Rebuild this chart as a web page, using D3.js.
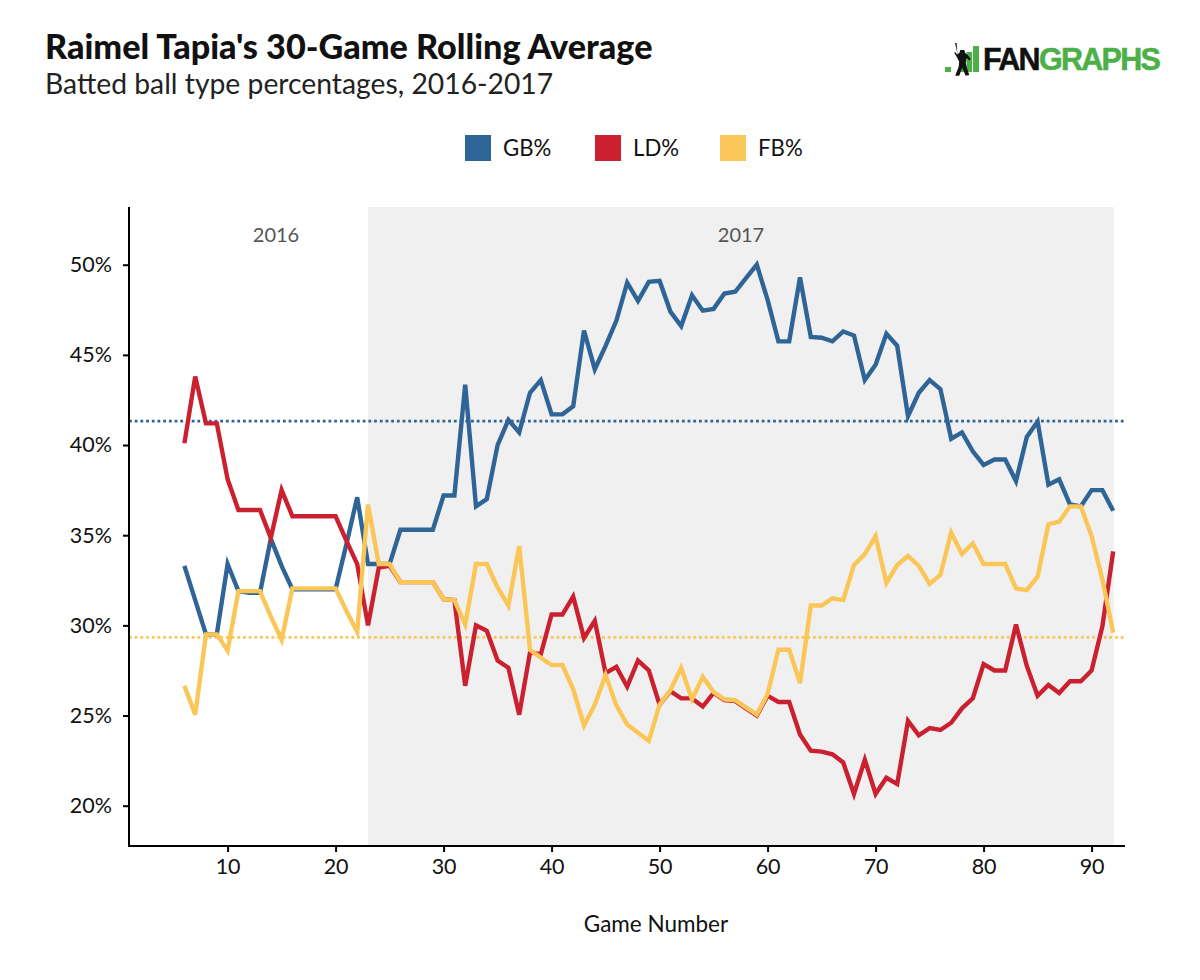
<!DOCTYPE html>
<html><head><meta charset="utf-8">
<script src="https://cdn.jsdelivr.net/npm/d3@7"></script>
<style>html,body{margin:0;padding:0;background:#fff}svg{display:block}text{font-family:Lato,sans-serif}</style>
</head><body><div id="c"></div>
<script>
const titleText="Raimel Tapia's 30-Game Rolling Average";
const subtitleText="Batted ball type percentages, 2016-2017";
const xLabel="Game Number";
const firstGame=6;
const gb=[33.3,31.4,29.5,29.5,33.4,31.9,31.8,31.8,34.8,33.3,32,32,32,32,32,34.5,37.1,33.4,33.4,33.4,35.3,35.3,35.3,35.3,37.2,37.2,43.35,36.6,37,40,41.4,40.7,42.9,43.6,41.7,41.7,42.15,46.35,44.2,45.5,46.9,49,48,49.05,49.1,47.4,46.6,48.3,47.45,47.55,48.4,48.5,49.25,50,48.05,45.75,45.75,49.3,46,45.95,45.75,46.3,46.07,43.6,44.45,46.17,45.5,41.6,42.9,43.6,43.1,40.35,40.7,39.65,38.9,39.2,39.2,38,40.45,41.3,37.8,38.1,36.7,36.6,37.5,37.5,36.35];
const ld=[40.1,43.8,41.2,41.2,38.1,36.4,36.4,36.4,34.85,37.5,36.05,36.05,36.05,36.05,36.05,34.7,33.4,30,33.2,33.3,32.4,32.4,32.4,32.4,31.45,31.4,26.65,30,29.7,28.05,27.65,25.05,28.5,28.4,30.6,30.6,31.6,29.3,30.25,27.35,27.7,26.6,28.05,27.5,25.6,26.35,25.95,25.95,25.5,26.25,25.85,25.8,25.4,25,26.1,25.75,25.75,23.95,23.05,23,22.85,22.4,20.65,22.55,20.65,21.55,21.2,24.7,23.9,24.3,24.2,24.6,25.4,25.95,27.85,27.5,27.5,30.05,27.75,26.1,26.7,26.25,26.9,26.9,27.5,29.95,34.1];
const fb=[26.65,25.05,29.5,29.5,28.6,31.9,31.9,31.9,30.5,29.2,32.05,32.05,32.05,32.05,32.05,30.8,29.65,36.7,33.4,33.4,32.4,32.4,32.4,32.4,31.45,31.4,30.05,33.4,33.4,32.1,31.1,34.4,28.65,28.2,27.8,27.8,26.45,24.45,25.6,27.25,25.55,24.5,24.05,23.6,25.6,26.4,27.65,25.9,27.15,26.3,25.9,25.85,25.45,25.05,26.2,28.65,28.65,26.8,31.1,31.1,31.5,31.4,33.35,33.95,34.95,32.35,33.35,33.85,33.3,32.3,32.8,35.15,33.95,34.55,33.4,33.4,33.4,32.05,31.95,32.7,35.6,35.75,36.6,36.6,34.95,32.55,29.6];
const seriesNames=["GB%","LD%","FB%"];
const seriesColors=["#2f6496","#cb2030","#fac657"];
const meanGB=41.33, meanFB=29.33;
const boundaryGame=23, lastGame=92;
const yTicks=[20,25,30,35,40,45,50];
const xTicks=[10,20,30,40,50,60,70,80,90];
const yearLabels=["2016","2017"];

const svg=d3.select("#c").append("svg").attr("width",1200).attr("height",980);
const x=d3.scaleLinear().domain([10,90]).range([227.6,1091.6]);
const y=d3.scaleLinear().domain([20,50]).range([805.7,264.7]);
const L=129,R=1125,T=207,B=846;

svg.append("rect").attr("x",x(boundaryGame)).attr("y",T).attr("width",x(lastGame)-x(boundaryGame)+.6).attr("height",B-T).attr("fill","#f0f0f0");

svg.append("text").attr("x",45).attr("y",59).attr("font-size",34.2).attr("font-weight",900).attr("fill","#111").text(titleText);
svg.append("text").attr("x",45).attr("y",94).attr("font-size",28.3).attr("fill","#222").text(subtitleText);

svg.append("text").attr("x",276).attr("y",242).attr("text-anchor","middle").attr("font-size",20).attr("fill","#555").text(yearLabels[0]);
svg.append("text").attr("x",741).attr("y",242).attr("text-anchor","middle").attr("font-size",20).attr("fill","#555").text(yearLabels[1]);

[[meanGB,0],[meanFB,2]].forEach(([v,i])=>{
  svg.append("line").attr("x1",L).attr("x2",1124).attr("y1",y(v)).attr("y2",y(v))
    .attr("stroke",seriesColors[i]).attr("stroke-width",2.8).attr("stroke-dasharray","2.8 2.9");
});

const line=d3.line().x((d,i)=>x(firstGame+i)).y(d=>y(d)).curve(d3.curveLinear);
[gb,ld,fb].forEach((s,i)=>{
  svg.append("path").attr("d",line(s)).attr("fill","none").attr("stroke",seriesColors[i]).attr("stroke-width",4.4).attr("stroke-linejoin","miter");
});

const gy=svg.append("g").attr("transform",`translate(${L},0)`).call(d3.axisLeft(y).tickValues(yTicks).tickFormat(d=>d+"%").tickSize(6).tickPadding(11));
const gx=svg.append("g").attr("transform",`translate(0,${B})`).call(d3.axisBottom(x).tickValues(xTicks).tickSize(6).tickPadding(7));
[gy,gx].forEach(g=>{
  g.selectAll("text").attr("font-size",21.5).attr("fill","#111").style("font-family","Lato");
  g.selectAll("line").attr("stroke","#000").attr("stroke-width",2);
  g.select(".domain").remove();
});
svg.append("line").attr("x1",L).attr("x2",L).attr("y1",T).attr("y2",B+1).attr("stroke","#000").attr("stroke-width",2);
svg.append("line").attr("x1",L-1).attr("x2",R).attr("y1",B).attr("y2",B).attr("stroke","#000").attr("stroke-width",2);

svg.append("text").attr("x",656).attr("y",932).attr("text-anchor","middle").attr("font-size",22.5).attr("fill","#111").text(xLabel);

const legendX=[465,595,720];
seriesNames.forEach((n,i)=>{
  svg.append("rect").attr("x",legendX[i]).attr("y",135).attr("width",26).attr("height",26).attr("fill",seriesColors[i]);
  svg.append("text").attr("x",legendX[i]+38).attr("y",155.5).attr("font-size",22.2).attr("fill","#111").text(n);
});

const lg=svg.append("g");
const green="#4daf47";
[[945,67,6,5],[960,58,5.5,14],[966.5,52,5.5,20],[973,46,6,26]].forEach(r=>{
  lg.append("rect").attr("x",r[0]).attr("y",r[1]).attr("width",r[2]).attr("height",r[3]).attr("fill",green);
});
lg.append("path").attr("fill","#111").attr("d","M955 43l1.6 0 .8 11 2-1 .8-3 4 0 1 3 2.5 2 3 4-1.5 1.5-2.5-2.5-1 5 1 4 2.5 8-3.5 .8-3.5-8-3 8-4 0 3.5-9 .5-5-2-4-3-5 1-.8 2.2 3-.5-4z");
lg.append("text").attr("x",983).attr("y",70).attr("font-size",30.5).attr("font-weight",700).attr("letter-spacing",-1.7).attr("stroke-width",.5).style("font-family","Liberation Sans").attr("fill","#111").attr("stroke","#111").text("FAN").append("tspan").attr("fill",green).attr("stroke",green).text("GRAPHS");
</script></body></html>
